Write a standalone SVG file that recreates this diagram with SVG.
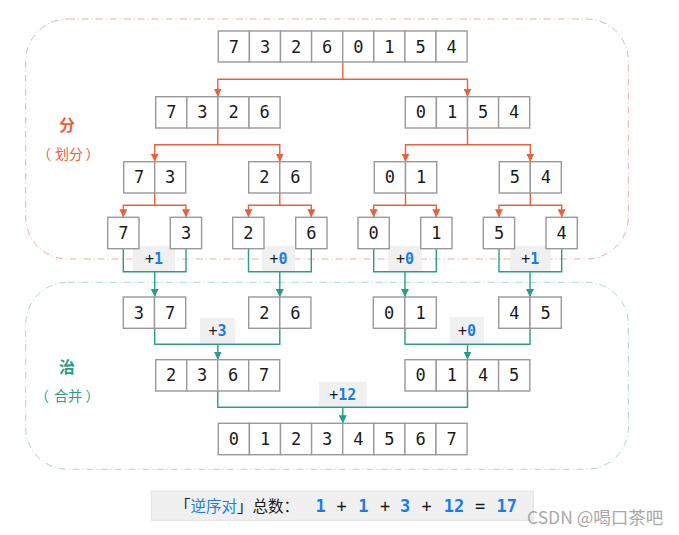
<svg xmlns="http://www.w3.org/2000/svg" width="679" height="535" viewBox="0 0 679 535">
<style>
.cell{fill:#fff;stroke:#999;stroke-width:1.4}
.d{font-family:"DejaVu Sans Mono","Liberation Mono",monospace;font-size:17px;fill:#1a1a1a;text-anchor:middle;dominant-baseline:central}
.or{fill:none;stroke:#e9603c;stroke-width:1.4}
.te{fill:none;stroke:#2a9c89;stroke-width:1.4}
.lb{fill:#f0f0f0}
.lt{font-family:"DejaVu Sans Mono","Liberation Mono",monospace;font-size:15px;fill:#1a1a1a;text-anchor:middle}
.bl{fill:#1a7de6;font-weight:bold}
.cjk{font-family:"Noto Sans CJK SC",sans-serif}
</style>
<defs>
<marker id="ao" viewBox="0 0 10 10" refX="10" refY="5" markerWidth="8" markerHeight="8" markerUnits="userSpaceOnUse" orient="auto"><path d="M0,0 L10,5 L0,10 z" fill="#e9603c"/></marker>
<marker id="at" viewBox="0 0 10 10" refX="10" refY="5" markerWidth="8" markerHeight="8" markerUnits="userSpaceOnUse" orient="auto"><path d="M0,0 L10,5 L0,10 z" fill="#2a9c89"/></marker>
</defs>
<rect width="679" height="535" fill="#fff"/>
<!-- region boxes -->
<g id="regions">
<rect x="25.7" y="19" width="602.6" height="240" rx="42" fill="none" stroke="#f2ad9c" stroke-width="1" stroke-dasharray="7 3 1 3"/>
<rect x="25.7" y="282.3" width="602.6" height="187" rx="42" fill="none" stroke="#a6d8cd" stroke-width="1" stroke-dasharray="7 3 1 3"/>
<text x="67" y="131" class="cjk" font-size="16" font-weight="bold" fill="#e9603c" text-anchor="middle">分</text>
<g class="cjk" font-size="14" fill="#e9603c">
<text x="37" y="158.5">（</text><text x="69" y="158.5" text-anchor="middle">划分</text><text x="85.5" y="158.5">）</text>
</g>
<text x="67" y="373" class="cjk" font-size="16" font-weight="bold" fill="#2a9c89" text-anchor="middle">治</text>
<g class="cjk" font-size="14" fill="#2a9c89">
<text x="35" y="400.5">（</text><text x="68" y="400.5" text-anchor="middle">合并</text><text x="85.5" y="400.5">）</text>
</g>
</g>
<!-- connectors -->
<g id="connectors">
<path class="or" d="M342.8,62 V79.3 H217.8 V96.7" marker-end="url(#ao)"/>
<path class="or" d="M342.8,79.3 H467.5 V96.7" marker-end="url(#ao)"/>
<path class="or" d="M217.8,128 V144.7 H154.7 V161.7" marker-end="url(#ao)"/>
<path class="or" d="M217.8,144.7 H279.8 V161.7" marker-end="url(#ao)"/>
<path class="or" d="M467.5,128 V144.7 H405.5 V161.7" marker-end="url(#ao)"/>
<path class="or" d="M467.5,144.7 H530.3 V161.7" marker-end="url(#ao)"/>
<path class="or" d="M154.7,193 V205.3 H123.3 V217.3" marker-end="url(#ao)"/>
<path class="or" d="M154.7,205.3 H186 V217.3" marker-end="url(#ao)"/>
<path class="or" d="M279.8,193 V205.3 H248.5 V217.3" marker-end="url(#ao)"/>
<path class="or" d="M279.8,205.3 H311.3 V217.3" marker-end="url(#ao)"/>
<path class="or" d="M405.5,193 V205.3 H373.7 V217.3" marker-end="url(#ao)"/>
<path class="or" d="M405.5,205.3 H436.3 V217.3" marker-end="url(#ao)"/>
<path class="or" d="M530.3,193 V205.3 H499 V217.3" marker-end="url(#ao)"/>
<path class="or" d="M530.3,205.3 H561.7 V217.3" marker-end="url(#ao)"/>
</g>
<!-- merge labels backgrounds -->
<g id="merge-labels">
<rect class="lb" x="132.7" y="246" width="42.3" height="25.7"/>
<text class="lt" x="154" y="264">+<tspan class="bl">1</tspan></text>
<rect class="lb" x="261.7" y="246" width="33.3" height="25.7"/>
<text class="lt" x="278.5" y="264">+<tspan class="bl">0</tspan></text>
<rect class="lb" x="388.3" y="246" width="33.4" height="25.7"/>
<text class="lt" x="405" y="264">+<tspan class="bl">0</tspan></text>
<rect class="lb" x="510" y="246" width="40.7" height="25.7"/>
<text class="lt" x="530.3" y="264">+<tspan class="bl">1</tspan></text>
<rect class="lb" x="200" y="318" width="35" height="25.3"/>
<text class="lt" x="217.5" y="336">+<tspan class="bl">3</tspan></text>
<rect class="lb" x="450" y="317" width="34" height="26.3"/>
<text class="lt" x="467" y="335.5">+<tspan class="bl">0</tspan></text>
<rect class="lb" x="319" y="381.7" width="47.7" height="25"/>
<text class="lt" x="342.8" y="399.5">+<tspan class="bl">12</tspan></text>
</g>
<g id="merge-connectors">
<path class="te" d="M123.3,248.7 V271.7 H186 V248.7"/>
<path class="te" d="M154.7,271.7 V297" marker-end="url(#at)"/>
<path class="te" d="M248.5,248.7 V271.7 H311.3 V248.7"/>
<path class="te" d="M279.8,271.7 V297" marker-end="url(#at)"/>
<path class="te" d="M373.7,248.7 V271.7 H436.3 V248.7"/>
<path class="te" d="M405,271.7 V297" marker-end="url(#at)"/>
<path class="te" d="M499,248.7 V271.7 H561.7 V248.7"/>
<path class="te" d="M530,271.7 V297" marker-end="url(#at)"/>
<path class="te" d="M154.7,328.3 V344.3 H279.8 V328.3"/>
<path class="te" d="M217.8,344.3 V359.7" marker-end="url(#at)"/>
<path class="te" d="M405,328.3 V344.3 H530 V328.3"/>
<path class="te" d="M467.5,344.3 V359.7" marker-end="url(#at)"/>
<path class="te" d="M217.8,391 V407.3 H467.5 V391"/>
<path class="te" d="M342.8,407.3 V423.3" marker-end="url(#at)"/>
</g>
<!-- split nodes -->
<g id="s0">
<rect class="cell" x="218.3" y="31" width="31.1" height="31"/><rect class="cell" x="249.4" y="31" width="31.1" height="31"/><rect class="cell" x="280.5" y="31" width="31.1" height="31"/><rect class="cell" x="311.6" y="31" width="31.1" height="31"/><rect class="cell" x="342.7" y="31" width="31.1" height="31"/><rect class="cell" x="373.8" y="31" width="31.1" height="31"/><rect class="cell" x="404.9" y="31" width="31.1" height="31"/><rect class="cell" x="436" y="31" width="31.1" height="31"/>
<text class="d" x="233.9" y="46.5">7</text><text class="d" x="265" y="46.5">3</text><text class="d" x="296.1" y="46.5">2</text><text class="d" x="327.2" y="46.5">6</text><text class="d" x="358.3" y="46.5">0</text><text class="d" x="389.4" y="46.5">1</text><text class="d" x="420.5" y="46.5">5</text><text class="d" x="451.6" y="46.5">4</text>
</g>
<g id="s1a">
<rect class="cell" x="155.7" y="96.7" width="31.1" height="31.3"/><rect class="cell" x="186.8" y="96.7" width="31.1" height="31.3"/><rect class="cell" x="217.9" y="96.7" width="31.1" height="31.3"/><rect class="cell" x="249" y="96.7" width="31.1" height="31.3"/>
<text class="d" x="171.3" y="112.4">7</text><text class="d" x="202.4" y="112.4">3</text><text class="d" x="233.5" y="112.4">2</text><text class="d" x="264.6" y="112.4">6</text>
</g>
<g id="s1b">
<rect class="cell" x="405.3" y="96.7" width="31.1" height="31.3"/><rect class="cell" x="436.4" y="96.7" width="31.1" height="31.3"/><rect class="cell" x="467.5" y="96.7" width="31.1" height="31.3"/><rect class="cell" x="498.6" y="96.7" width="31.1" height="31.3"/>
<text class="d" x="420.9" y="112.4">0</text><text class="d" x="452" y="112.4">1</text><text class="d" x="483.1" y="112.4">5</text><text class="d" x="514.2" y="112.4">4</text>
</g>
<g id="s2a"><rect class="cell" x="123.7" y="161.7" width="31" height="31.3"/><rect class="cell" x="154.7" y="161.7" width="31" height="31.3"/><text class="d" x="139.2" y="177.4">7</text><text class="d" x="170.2" y="177.4">3</text></g>
<g id="s2b"><rect class="cell" x="248.7" y="161.7" width="31.1" height="31.3"/><rect class="cell" x="279.8" y="161.7" width="31.1" height="31.3"/><text class="d" x="264.3" y="177.4">2</text><text class="d" x="295.4" y="177.4">6</text></g>
<g id="s2c"><rect class="cell" x="374.3" y="161.7" width="31.2" height="31.3"/><rect class="cell" x="405.5" y="161.7" width="31.2" height="31.3"/><text class="d" x="389.9" y="177.4">0</text><text class="d" x="421.1" y="177.4">1</text></g>
<g id="s2d"><rect class="cell" x="499.3" y="161.7" width="31" height="31.3"/><rect class="cell" x="530.3" y="161.7" width="31" height="31.3"/><text class="d" x="514.8" y="177.4">5</text><text class="d" x="545.8" y="177.4">4</text></g>
<g id="s3a"><rect class="cell" x="107.7" y="217.3" width="31.3" height="31.4"/><text class="d" x="123.3" y="233">7</text></g>
<g id="s3b"><rect class="cell" x="170.3" y="217.3" width="31.3" height="31.4"/><text class="d" x="186" y="233">3</text></g>
<g id="s3c"><rect class="cell" x="232.7" y="217.3" width="31.3" height="31.4"/><text class="d" x="248.4" y="233">2</text></g>
<g id="s3d"><rect class="cell" x="295.7" y="217.3" width="31.3" height="31.4"/><text class="d" x="311.3" y="233">6</text></g>
<g id="s3e"><rect class="cell" x="358" y="217.3" width="31.3" height="31.4"/><text class="d" x="373.7" y="233">0</text></g>
<g id="s3f"><rect class="cell" x="420.7" y="217.3" width="31.3" height="31.4"/><text class="d" x="436.3" y="233">1</text></g>
<g id="s3g"><rect class="cell" x="483.3" y="217.3" width="31.3" height="31.4"/><text class="d" x="499" y="233">5</text></g>
<g id="s3h"><rect class="cell" x="546" y="217.3" width="31.3" height="31.4"/><text class="d" x="561.7" y="233">4</text></g>
<!-- merge nodes -->
<g id="m2a"><rect class="cell" x="123.3" y="297" width="31.2" height="31.3"/><rect class="cell" x="154.5" y="297" width="31.2" height="31.3"/><text class="d" x="138.9" y="312.7">3</text><text class="d" x="170.1" y="312.7">7</text></g>
<g id="m2b"><rect class="cell" x="248.7" y="297" width="31.1" height="31.3"/><rect class="cell" x="279.8" y="297" width="31.1" height="31.3"/><text class="d" x="264.3" y="312.7">2</text><text class="d" x="295.4" y="312.7">6</text></g>
<g id="m2c"><rect class="cell" x="373.3" y="297" width="31.5" height="31.3"/><rect class="cell" x="404.8" y="297" width="31.5" height="31.3"/><text class="d" x="389" y="312.7">0</text><text class="d" x="420.5" y="312.7">1</text></g>
<g id="m2d"><rect class="cell" x="498.7" y="297" width="31.3" height="31.3"/><rect class="cell" x="530" y="297" width="31.3" height="31.3"/><text class="d" x="514.3" y="312.7">4</text><text class="d" x="545.6" y="312.7">5</text></g>
<g id="m1a">
<rect class="cell" x="155.7" y="359.7" width="31" height="31.3"/><rect class="cell" x="186.7" y="359.7" width="31" height="31.3"/><rect class="cell" x="217.7" y="359.7" width="31" height="31.3"/><rect class="cell" x="248.7" y="359.7" width="31" height="31.3"/>
<text class="d" x="171.2" y="375.4">2</text><text class="d" x="202.2" y="375.4">3</text><text class="d" x="233.2" y="375.4">6</text><text class="d" x="264.2" y="375.4">7</text>
</g>
<g id="m1b">
<rect class="cell" x="405" y="359.7" width="31.2" height="31.3"/><rect class="cell" x="436.2" y="359.7" width="31.2" height="31.3"/><rect class="cell" x="467.4" y="359.7" width="31.2" height="31.3"/><rect class="cell" x="498.6" y="359.7" width="31.2" height="31.3"/>
<text class="d" x="420.6" y="375.4">0</text><text class="d" x="451.8" y="375.4">1</text><text class="d" x="483" y="375.4">4</text><text class="d" x="514.2" y="375.4">5</text>
</g>
<g id="m0">
<rect class="cell" x="218.3" y="423.3" width="31.1" height="31.4"/><rect class="cell" x="249.4" y="423.3" width="31.1" height="31.4"/><rect class="cell" x="280.5" y="423.3" width="31.1" height="31.4"/><rect class="cell" x="311.6" y="423.3" width="31.1" height="31.4"/><rect class="cell" x="342.7" y="423.3" width="31.1" height="31.4"/><rect class="cell" x="373.8" y="423.3" width="31.1" height="31.4"/><rect class="cell" x="404.9" y="423.3" width="31.1" height="31.4"/><rect class="cell" x="436" y="423.3" width="31.1" height="31.4"/>
<text class="d" x="233.9" y="439">0</text><text class="d" x="265" y="439">1</text><text class="d" x="296.1" y="439">2</text><text class="d" x="327.2" y="439">3</text><text class="d" x="358.3" y="439">4</text><text class="d" x="389.4" y="439">5</text><text class="d" x="420.5" y="439">6</text><text class="d" x="451.6" y="439">7</text>
</g>
<!-- summary -->
<g id="summary">
<rect x="151.3" y="491" width="382" height="29.3" fill="#f0f0f0" stroke="#e2e2e2" stroke-width="1"/>
<text x="175" y="511.5" class="cjk" font-size="15.5" fill="#1a1a1a">「<tspan fill="#1a7de6">逆序对</tspan>」总数：</text>
<g font-family="DejaVu Sans Mono, Liberation Mono, monospace" font-size="17" text-anchor="middle">
<text x="320.7" y="511.5" class="bl">1</text>
<text x="341.7" y="511.5" fill="#1a1a1a">+</text>
<text x="363.3" y="511.5" class="bl">1</text>
<text x="385" y="511.5" fill="#1a1a1a">+</text>
<text x="405" y="511.5" class="bl">3</text>
<text x="426.7" y="511.5" fill="#1a1a1a">+</text>
<text x="454" y="511.5" class="bl">12</text>
<text x="480" y="511.5" fill="#1a1a1a">=</text>
<text x="506.7" y="511.5" class="bl">17</text>
</g>
</g>
<text x="527" y="524" font-family="Noto Sans CJK SC, sans-serif" font-size="17.5" fill="#a8a8a8">CSDN @喝口茶吧</text>
</svg>
